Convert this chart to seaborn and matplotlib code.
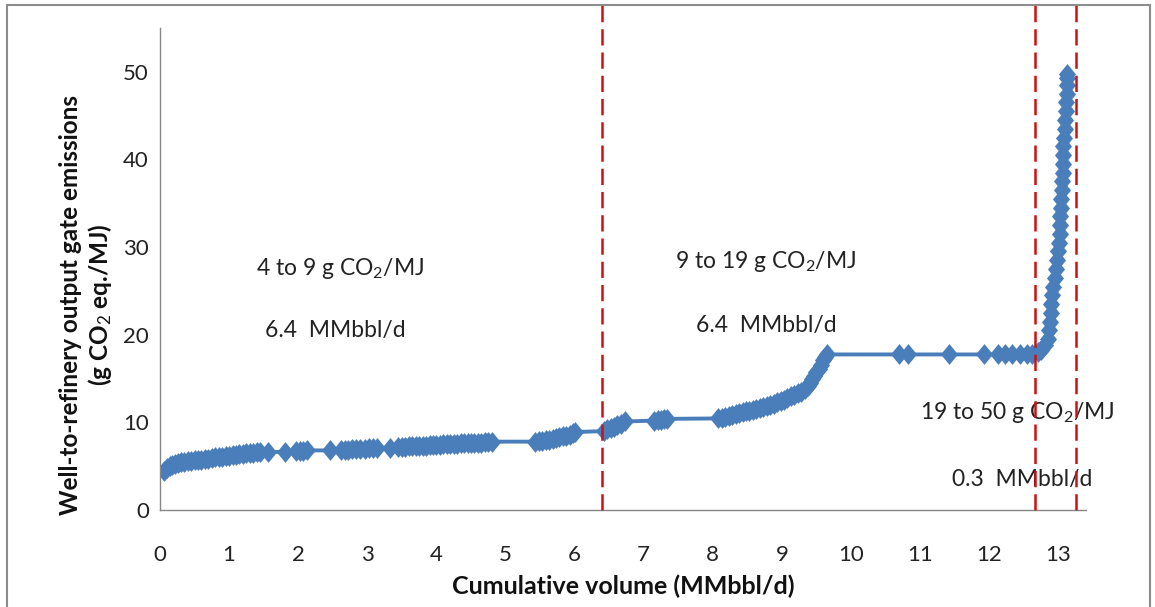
import matplotlib
matplotlib.use("Agg")
import matplotlib.pyplot as plt
import seaborn as sns
import pandas as pd
from matplotlib.patches import Rectangle
from matplotlib.path import Path

# ---- data ----
cum_volume = [
    0.06, 0.10, 0.14, 0.18, 0.22, 0.26, 0.30, 0.35, 0.40, 0.45, 0.50, 0.55, 0.60, 0.65, 0.70,
    0.75, 0.80, 0.85, 0.90, 0.95, 1.00, 1.05, 1.10, 1.15, 1.20, 1.25, 1.30, 1.35, 1.40, 1.45,
    1.56, 1.81, 1.97, 2.02, 2.07, 2.12, 2.46,
    2.62, 2.67, 2.72, 2.78, 2.84, 2.90, 2.96, 3.02, 3.08, 3.14, 3.33,
    3.45, 3.50, 3.55, 3.60, 3.65, 3.70, 3.75, 3.80, 3.85, 3.90, 3.95, 4.00, 4.05, 4.10, 4.15,
    4.20, 4.25, 4.30, 4.35, 4.40, 4.45, 4.50, 4.55, 4.60, 4.65, 4.70, 4.75, 4.81,
    5.42, 5.48, 5.53, 5.58, 5.63, 5.68, 5.73, 5.78, 5.83, 5.88, 5.93, 5.97, 6.01,
    6.42, 6.47, 6.52, 6.57, 6.62, 6.67, 6.73,
    7.15, 7.20, 7.25, 7.30, 7.34,
    8.08, 8.13, 8.18, 8.23, 8.28, 8.33, 8.38, 8.43, 8.48, 8.53, 8.58, 8.63, 8.68, 8.73, 8.78,
    8.83, 8.88, 8.93, 8.98, 9.03, 9.08, 9.13, 9.18, 9.23, 9.28, 9.33, 9.37, 9.41, 9.44, 9.47,
    9.50, 9.53, 9.56, 9.59, 9.62, 9.65,
    10.70, 10.82, 11.42, 11.93, 12.12, 12.23, 12.33, 12.44, 12.54,
    12.62, 12.70, 12.75, 12.80, 12.85, 12.87, 12.88, 12.89, 12.90, 12.91, 12.92, 12.95, 12.97,
    12.98, 13.00, 13.01, 13.02, 13.03, 13.03, 13.04, 13.04, 13.05, 13.05, 13.06, 13.06, 13.07,
    13.07, 13.08, 13.09, 13.10, 13.11, 13.11, 13.12, 13.12, 13.13, 13.13,
]
emissions = [
    4.5, 4.8, 5.0, 5.15, 5.3, 5.35, 5.45, 5.5, 5.55, 5.6, 5.65, 5.7, 5.75, 5.8, 5.85,
    5.9, 6.0, 6.05, 6.1, 6.15, 6.2, 6.25, 6.3, 6.35, 6.4, 6.45, 6.5, 6.55, 6.6, 6.65,
    6.6, 6.65, 6.7, 6.75, 6.75, 6.8, 6.8,
    6.85, 6.9, 6.9, 6.95, 6.95, 7.0, 7.0, 7.05, 7.05, 7.1, 7.1,
    7.15, 7.2, 7.2, 7.25, 7.25, 7.3, 7.3, 7.35, 7.35, 7.4, 7.4, 7.45, 7.45, 7.5, 7.5,
    7.5, 7.55, 7.55, 7.6, 7.6, 7.6, 7.65, 7.65, 7.7, 7.7, 7.75, 7.75, 7.8,
    7.8, 7.85, 7.9, 7.95, 8.0, 8.1, 8.2, 8.3, 8.4, 8.5, 8.6, 8.75, 8.9,
    9.0, 9.2, 9.35, 9.5, 9.65, 9.85, 10.1,
    10.2, 10.3, 10.3, 10.35, 10.4,
    10.45, 10.55, 10.65, 10.75, 10.85, 10.95, 11.05, 11.15, 11.25, 11.35, 11.45, 11.55, 11.65, 11.75, 11.85,
    12.0, 12.15, 12.3, 12.45, 12.6, 12.8, 13.0, 13.15, 13.3, 13.5, 13.8, 14.1, 14.5, 14.9, 15.3,
    15.7, 16.1, 16.6, 17.1, 17.5, 17.75,
    17.75, 17.75, 17.75, 17.75, 17.75, 17.75, 17.75, 17.75, 17.75,
    17.8, 18.0, 18.3, 18.8, 19.5, 20.5, 21.5, 22.5, 23.5, 24.5, 25.5, 26.5, 27.5,
    28.5, 29.5, 30.5, 31.5, 32.5, 33.5, 34.5, 35.5, 36.5, 37.5, 38.5, 39.5, 40.5,
    41.5, 42.5, 43.5, 44.5, 45.5, 46.5, 47.5, 48.5, 49.3, 49.8,
]
boundaries = [6.4, 12.66, 13.26]
x_ticks = list(range(0, 14))
y_ticks = [0, 10, 20, 30, 40, 50]
labels_range = ["4 to 9 g CO$_2$/MJ", "9 to 19 g CO$_2$/MJ", "19 to 50 g CO$_2$/MJ"]
labels_volume = ["6.4  MMbbl/d", "6.4  MMbbl/d", "0.3  MMbbl/d"]
x_label = "Cumulative volume (MMbbl/d)"
y_label = "Well-to-refinery output gate emissions\n(g CO$_2$ eq./MJ)"

df = pd.DataFrame({"volume": cum_volume, "emissions": emissions})

# ---- style ----
sns.set_style("white")
plt.rcParams["font.family"] = ["Lato", "DejaVu Sans"]
plt.rcParams["mathtext.fontset"] = "custom"
plt.rcParams["mathtext.rm"] = "Lato"
plt.rcParams["mathtext.it"] = "Lato:italic"
plt.rcParams["mathtext.bf"] = "Lato:bold"

fig = plt.figure(figsize=(11.55, 6.07), dpi=100)
ax = fig.add_axes([160 / 1155, 1 - 510 / 607, (1086 - 160) / 1155, (510 - 28) / 607])

blue = "#4A7EBB"
diamond = Path([(0, 1), (0.82, 0), (0, -1), (-0.82, 0), (0, 1)],
               [Path.MOVETO, Path.LINETO, Path.LINETO, Path.LINETO, Path.CLOSEPOLY])
sns.lineplot(data=df, x="volume", y="emissions", ax=ax, color=blue, linewidth=2.8,
             marker=diamond, markersize=15, markeredgewidth=0, estimator=None, sort=False)

ax.set_xlim(0, 13.4)
ax.set_ylim(0, 55)
ax.set_xticks(x_ticks)
ax.set_yticks(y_ticks)

for s in ["top", "right"]:
    ax.spines[s].set_visible(False)
for s in ["left", "bottom"]:
    ax.spines[s].set_color("#868686")
    ax.spines[s].set_linewidth(1.0)
ax.tick_params(axis="both", which="major", direction="out", length=5, width=1.0,
               color="#868686", labelsize=16, labelcolor="#222222")
ax.tick_params(axis="y", pad=3)
ax.tick_params(axis="x", pad=20)

ax.set_xlabel(x_label, fontsize=18, fontweight="bold", color="#111111")
ax.set_ylabel(y_label, fontsize=17.5, fontweight="bold", color="#111111", linespacing=1.15)
ax.xaxis.set_label_coords(0.5, -0.134)
ax.yaxis.set_label_coords(-0.050, 0.425)

# dashed boundaries (extend above the axes like the drawn shapes in the reference)
for b in boundaries:
    ax.plot([b, b], [0, 57.6], color="#CC1111", linewidth=1.8, linestyle=(0, (6.5, 2.8)),
            clip_on=False, zorder=5)

# annotations
ann_pos_range = [(2.6, 27.6), (8.76, 28.3), (12.4, 11.1)]
ann_pos_vol = [(2.53, 20.5), (8.78, 21.0), (12.47, 3.5)]
for (x, y), t in zip(ann_pos_range, labels_range):
    ax.text(x, y, t, ha="center", va="center", fontsize=16.5, color="#222222")
for (x, y), t in zip(ann_pos_vol, labels_volume):
    ax.text(x, y, t, ha="center", va="center", fontsize=16.5, color="#222222")

# outer frame
fig.patches.append(Rectangle((7 / 1155, -0.05), (1150 - 7) / 1155, 1.05 - 5 / 607,
                             transform=fig.transFigure, fill=False, edgecolor="#8C8C8C",
                             linewidth=1.5))

fig.savefig("out.png", dpi=100)
